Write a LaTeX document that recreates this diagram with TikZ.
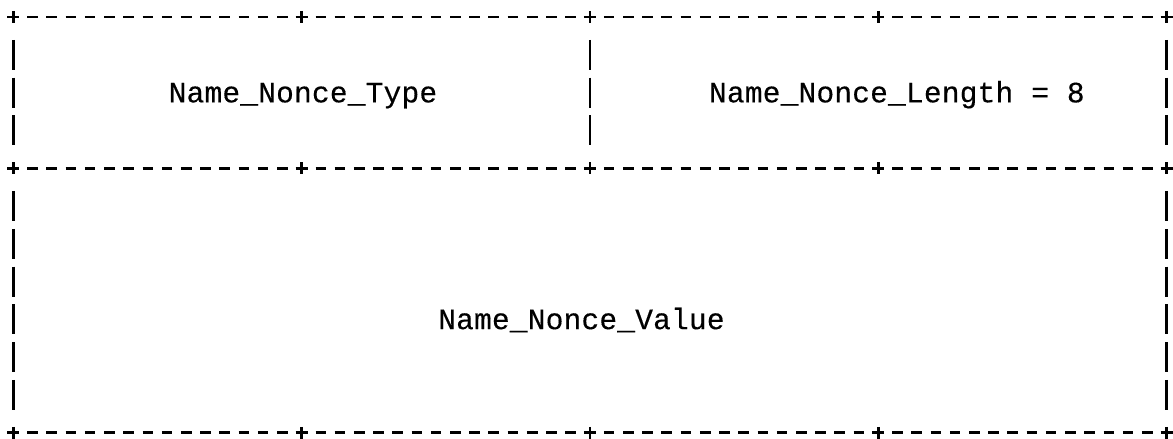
\documentclass[tikz,border=0pt]{standalone}
\usepackage{fontspec}
\newfontfamily\fieldfont[LetterSpace=0.5,FakeBold=0.3]{Liberation Mono}
\usepackage{tikz}

\begin{document}
\begin{tikzpicture}[
    x=9.61pt, y=-18.9pt,
    every node/.style={inner sep=0pt, anchor=base},
    field/.style={font=\fieldfont\fontsize{14.8pt}{17pt}\selectfont},
    rule/.style={line width=1.35pt, line cap=butt},
    hline/.style={rule, dash pattern=on 5.3pt off 4.31pt},
    vline/.style={rule, dash pattern=on 15pt off 3.9pt}]
      \useasboundingbox (-0.692,-0.4497) rectangle (60.338,11.164);

      \node[field] (typefield)   at (15.07,2.258) {Name\_Nonce\_Type};
      \node[field] (lengthfield) at (45.97,2.258) {Name\_Nonce\_Length = 8};
      \node[field] (valuefield)  at (29.56,8.258) {Name\_Nonce\_Value};

      % rows of dashes
      \foreach \r in {0,4,11}
        \draw[hline] (-0.276,\r) -- (60.276,\r);

      % plus signs
      \foreach \r in {0,4,11}
        \foreach \c in {0,15,30,45,60}
          \draw[rule] (\c-0.312,\r) -- (\c+0.312,\r)
                      (\c,\r-0.159) -- (\c,\r+0.159);

      % bars, first row
      \foreach \c in {0,30,60}
        \draw[vline] (\c,0.603) -- (\c,3.397);
      % bars, second row
      \foreach \c in {0,60}
        \draw[vline] (\c,4.603) -- (\c,10.397);

    \end{tikzpicture}
\end{document}
